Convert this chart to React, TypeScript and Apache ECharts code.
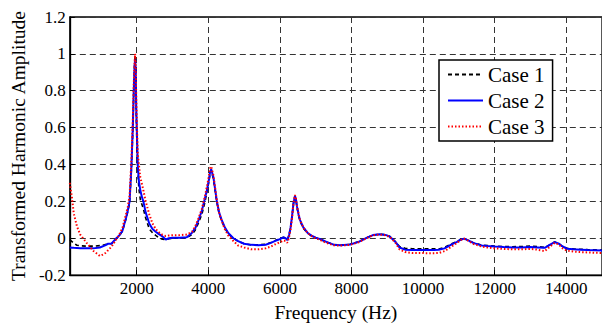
import React, { useEffect, useRef } from "react";
import * as echarts from "echarts";

const freq = [
  130, 190, 240, 330, 420, 600, 790, 970, 1100, 1200,
  1300, 1430, 1500, 1600, 1700, 1750, 1800, 1850, 1890, 1917,
  1940, 1955, 1970, 1985, 2000, 2028, 2060, 2100, 2150, 2185,
  2250, 2350, 2440, 2530, 2600, 2717, 2810, 2900, 3000, 3200,
  3400, 3545, 3636, 3730, 3820, 3910, 3960, 4010, 4050, 4080,
  4143, 4234, 4300, 4372, 4460, 4557, 4700, 4833, 5000, 5200,
  5400, 5600, 5750, 5900, 6000, 6100, 6160, 6210, 6260, 6300,
  6340, 6380, 6420, 6450, 6480, 6520, 6560, 6650, 6770, 6900,
  7000, 7130, 7300, 7500, 7700, 7960, 8200, 8420, 8600, 8786,
  8950, 9062, 9150, 9250, 9340, 9500, 9700, 9900, 10100, 10300,
  10440, 10600, 10800, 10950, 11050, 11150, 11250, 11400, 11630, 11800,
  12000, 12250, 12500, 12750, 13000, 13200, 13400, 13550, 13680, 13800,
  13900, 14030, 14200, 14400, 14600, 14800, 15000,
];

const case1 = [
  -0.008, -0.018, -0.027, -0.038, -0.041, -0.043, -0.043, -0.04, -0.036, -0.03,
  -0.03, -0.003, 0.01, 0.038, 0.105, 0.145, 0.19, 0.37, 0.58, 0.8,
  0.95, 0.99, 0.88, 0.68, 0.55, 0.37, 0.27, 0.21, 0.18, 0.16,
  0.11, 0.05, 0.03, 0.015, 0.005, -0.005, -0.008, -0.003, 0.0, 0.002,
  0.003, 0.02, 0.045, 0.085, 0.13, 0.2, 0.25, 0.3, 0.35, 0.37,
  0.32, 0.2, 0.135, 0.095, 0.055, 0.025, 0.0, -0.016, -0.03, -0.036,
  -0.036, -0.033, -0.023, -0.01, -0.003, 0.006, 0.0, -0.008, 0.02, 0.06,
  0.12, 0.19, 0.225, 0.205, 0.165, 0.125, 0.095, 0.055, 0.028, 0.01,
  0.002, -0.006, -0.021, -0.034, -0.037, -0.033, -0.019, 0.002, 0.017, 0.022,
  0.019, 0.011, -0.005, -0.022, -0.045, -0.055, -0.057, -0.057, -0.057, -0.058,
  -0.058, -0.05, -0.03, -0.018, -0.007, -0.002, -0.01, -0.024, -0.037, -0.04,
  -0.043, -0.045, -0.046, -0.045, -0.042, -0.045, -0.05, -0.035, -0.02, -0.03,
  -0.045, -0.055, -0.058, -0.06, -0.062, -0.063, -0.064,
];

const case2 = [
  -0.05, -0.051, -0.052, -0.053, -0.054, -0.055, -0.055, -0.05, -0.04, -0.03,
  -0.028, 0.0, 0.012, 0.04, 0.11, 0.15, 0.2, 0.38, 0.6, 0.8,
  0.93, 0.97, 0.9, 0.72, 0.6, 0.4, 0.31, 0.26, 0.22, 0.2,
  0.14, 0.08, 0.05, 0.035, 0.025, 0.01, -0.007, 0.0, 0.002, 0.003,
  0.005, 0.03, 0.055, 0.1, 0.15, 0.22, 0.26, 0.31, 0.36, 0.374,
  0.33, 0.206, 0.14, 0.1, 0.06, 0.028, 0.0, -0.016, -0.03, -0.036,
  -0.038, -0.035, -0.025, -0.012, -0.005, 0.005, 0.0, -0.01, 0.02, 0.06,
  0.12, 0.19, 0.23, 0.21, 0.17, 0.13, 0.1, 0.06, 0.03, 0.012,
  0.003, -0.005, -0.02, -0.035, -0.038, -0.034, -0.02, 0.002, 0.017, 0.021,
  0.018, 0.01, -0.005, -0.025, -0.05, -0.062, -0.064, -0.064, -0.064, -0.064,
  -0.063, -0.055, -0.033, -0.02, -0.008, -0.002, -0.01, -0.025, -0.039, -0.042,
  -0.045, -0.048, -0.05, -0.05, -0.048, -0.05, -0.052, -0.035, -0.021, -0.03,
  -0.045, -0.057, -0.06, -0.062, -0.064, -0.065, -0.066,
];

const case3 = [
  0.3, 0.22, 0.135, 0.064, 0.02, -0.025, -0.069, -0.096, -0.085, -0.065,
  -0.045, -0.005, 0.015, 0.055, 0.13, 0.17, 0.23, 0.42, 0.64, 0.84,
  0.95, 1.0, 0.93, 0.78, 0.65, 0.46, 0.4, 0.33, 0.29, 0.26,
  0.2, 0.13, 0.08, 0.05, 0.035, 0.018, 0.012, 0.015, 0.016, 0.017,
  0.02, 0.035, 0.065, 0.11, 0.16, 0.23, 0.28, 0.33, 0.38, 0.39,
  0.34, 0.21, 0.14, 0.095, 0.05, 0.015, -0.015, -0.04, -0.05, -0.06,
  -0.06, -0.055, -0.045, -0.03, -0.022, -0.012, -0.015, -0.025, 0.01, 0.05,
  0.11, 0.19, 0.235, 0.215, 0.175, 0.135, 0.1, 0.06, 0.03, 0.01,
  0.0, -0.01, -0.025, -0.038, -0.04, -0.036, -0.022, 0.0, 0.016, 0.02,
  0.016, 0.008, -0.008, -0.03, -0.06, -0.075, -0.08, -0.08, -0.081, -0.081,
  -0.08, -0.07, -0.045, -0.025, -0.01, -0.003, -0.012, -0.03, -0.045, -0.05,
  -0.055, -0.058, -0.06, -0.06, -0.058, -0.062, -0.07, -0.045, -0.025, -0.035,
  -0.055, -0.068, -0.072, -0.075, -0.077, -0.079, -0.08,
];

const xTicks = [2000, 4000, 6000, 8000, 10000, 12000, 14000];
const seriesNames = ["Case 1", "Case 2", "Case 3"];

const FONT = "Liberation Serif";

function zip(vals: number[]) {
  return freq.map((f, i) => [f, vals[i]]);
}

export default function App() {
  const ref = useRef<HTMLDivElement>(null);
  useEffect(() => {
    if (!ref.current) return;
    const chart = echarts.init(ref.current, undefined, { renderer: "svg" });
    const gridLine = { show: true, lineStyle: { color: "#333", width: 1, type: [6, 4] as any } };
    chart.setOption({
      animation: false,
      backgroundColor: "#fff",
      textStyle: { fontFamily: FONT, color: "#000" },
      grid: {
        left: 66,
        top: 17,
        width: 539,
        height: 263,
        show: true,
        borderColor: "#000",
        borderWidth: 1.3,
        backgroundColor: "#fff",
      },
      legend: {
        data: seriesNames,
        orient: "vertical",
        left: 439,
        top: 60,
        padding: [4, 8, 4, 8],
        itemGap: 5,
        itemWidth: 35,
        itemHeight: 14,
        itemStyle: { opacity: 0 },
        backgroundColor: "#fff",
        borderColor: "#000",
        borderWidth: 1.5,
        borderRadius: 0,
        textStyle: { fontFamily: FONT, fontSize: 21, color: "#000" },
      },
      xAxis: {
        type: "value",
        min: 130,
        max: 15000,
        name: "Frequency (Hz)",
        nameLocation: "middle",
        nameGap: 20,
        nameTextStyle: { fontFamily: FONT, fontSize: 19.5, color: "#000" },
        axisLine: { show: true, onZero: false, lineStyle: { color: "#000", width: 1.3 } },
        axisTick: { show: true, inside: true, length: 5, customValues: xTicks, lineStyle: { color: "#000" } },
        axisLabel: {
          customValues: xTicks,
          fontFamily: FONT,
          fontSize: 17,
          color: "#000",
          margin: 5,
          formatter: (v: number) => String(v),
        },
        splitLine: gridLine,
      },
      yAxis: {
        type: "value",
        min: -0.2,
        max: 1.2,
        interval: 0.2,
        name: "Transformed Harmonic Amplitude",
        nameLocation: "middle",
        nameRotate: 90,
        nameGap: 40,
        nameTextStyle: { fontFamily: FONT, fontSize: 19.5, color: "#000" },
        axisLine: { show: true, onZero: false, lineStyle: { color: "#000", width: 1.3 } },
        axisTick: { show: true, inside: true, length: 5, lineStyle: { color: "#000" } },
        axisLabel: {
          fontFamily: FONT,
          fontSize: 17,
          color: "#000",
          margin: 4,
          formatter: (v: number) => String(Math.round(v * 10) / 10),
        },
        splitLine: gridLine,
      },
      series: [
        {
          name: seriesNames[0],
          type: "line",
          data: zip(case1),
          showSymbol: false,
          symbol: "none",
          lineStyle: { color: "#000", width: 1.6, type: [4, 3] },
          itemStyle: { color: "#000" },
        },
        {
          name: seriesNames[1],
          type: "line",
          data: zip(case2),
          showSymbol: false,
          symbol: "none",
          lineStyle: { color: "#0000ff", width: 2, type: "solid" },
          itemStyle: { color: "#0000ff" },
        },
        {
          name: seriesNames[2],
          type: "line",
          data: zip(case3),
          showSymbol: false,
          symbol: "none",
          lineStyle: { color: "#ff0000", width: 2, type: [1.5, 2] },
          itemStyle: { color: "#ff0000" },
        },
      ],
    });
    return () => chart.dispose();
  }, []);
  return (
    <div
      ref={ref}
      style={{ position: "fixed", left: 0, top: 0, width: 602, height: 327, background: "#fff" }}
    />
  );
}
